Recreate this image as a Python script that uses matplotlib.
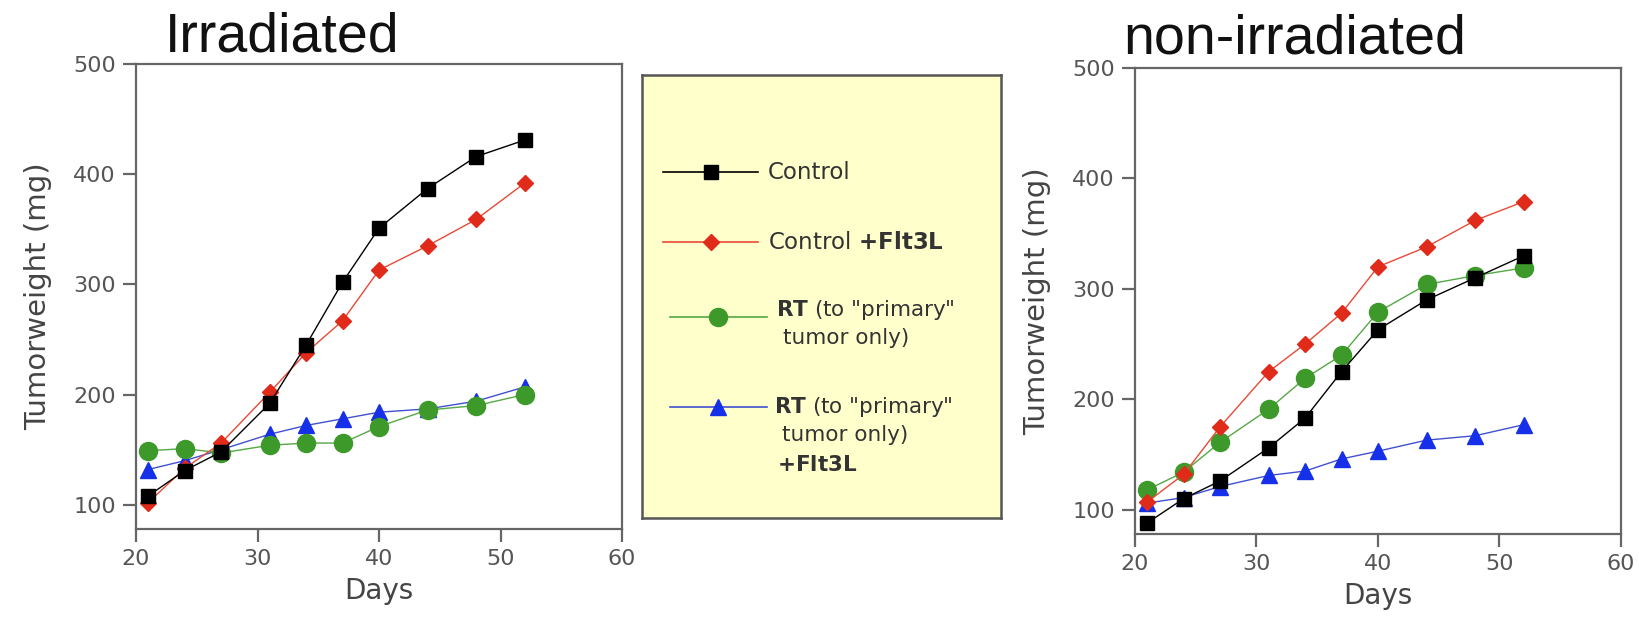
import matplotlib.pyplot as plt

days = [21, 24, 27, 31, 34, 37, 40, 44, 48, 52]

# Irradiated tumours (mg)
irr_control = [108, 131, 148, 192, 245, 302, 351, 387, 416, 431]
irr_control_flt3l = [102, 133, 156, 202, 238, 267, 313, 335, 359, 392]
irr_rt = [149, 151, 147, 154, 156, 156, 171, 186, 190, 200]
irr_rt_flt3l = [132, 140, 150, 164, 172, 178, 184, 187, 194, 207]

# Non-irradiated tumours (mg)
non_control = [88, 110, 126, 156, 183, 225, 263, 290, 310, 330]
non_control_flt3l = [107, 132, 175, 225, 250, 278, 320, 338, 362, 379]
non_rt = [118, 134, 161, 191, 219, 240, 279, 304, 312, 319]
non_rt_flt3l = [106, 111, 121, 131, 135, 146, 153, 163, 167, 177]

x_ticks = [20, 30, 40, 50, 60]
y_ticks = [100, 200, 300, 400, 500]

# line colour, marker, marker colour, marker size
styles = {
    'control': ('black', 's', 'black', 10),
    'control_flt3l': ('#e84a35', 'D', '#e02a1a', 8),
    'rt': ('#55a845', 'o', '#3d9a2a', 13),
    'rt_flt3l': ('#4050d0', '^', '#1530e8', 11),
}
draw_order = ['rt_flt3l', 'rt', 'control_flt3l', 'control']


def draw_panel(ax, data):
    for key in draw_order:
        lc, mk, mc, ms = styles[key]
        ax.plot(days, data[key], color=lc, lw=1.0, marker=mk, ms=ms,
                mfc=mc, mec=mc, zorder=3)
    ax.set_xlim(20, 60)
    ax.set_ylim(78, 500)
    ax.set_xticks(x_ticks)
    ax.set_yticks(y_ticks)
    for s in ax.spines.values():
        s.set_color('#666666')
        s.set_linewidth(1.6)
    ax.tick_params(direction='out', length=9.5, width=1.6, color='#666666',
                   labelsize=16, labelcolor='#555555', pad=5)
    ax.set_xlabel('Days', fontsize=20, color='#444444', labelpad=6)
    ax.set_ylabel('Tumorweight (mg)', fontsize=21, color='#444444', labelpad=15)


fig = plt.figure(figsize=(16.39, 6.17), dpi=100)

ax1 = fig.add_axes([0.0830, 0.1426, 0.2965, 0.7537])
draw_panel(ax1, {'control': irr_control, 'control_flt3l': irr_control_flt3l,
                 'rt': irr_rt, 'rt_flt3l': irr_rt_flt3l})

ax2 = fig.add_axes([0.6925, 0.1345, 0.2965, 0.7553])
draw_panel(ax2, {'control': non_control, 'control_flt3l': non_control_flt3l,
                 'rt': non_rt, 'rt_flt3l': non_rt_flt3l})

fig.text(165 / 1639, 1 - 52 / 617, 'Irradiated', fontsize=40,
         family='Liberation Sans', color='#111111', va='baseline')
fig.text(1123 / 1639, 1 - 53 / 617, 'non-irradiated', fontsize=40,
         family='Liberation Sans', color='#111111', va='baseline')

# legend box
lax = fig.add_axes([0.3917, 0.1604, 0.2190, 0.7180])
lax.set_facecolor('#ffffcc')
lax.set_xlim(0, 1)
lax.set_ylim(0, 1)
lax.set_xticks([])
lax.set_yticks([])
for s in lax.spines.values():
    s.set_color('#555555')
    s.set_linewidth(1.8)

entries = [
    ('control', 0.781, 0.058, 0.323, 0.192),
    ('control_flt3l', 0.623, 0.058, 0.323, 0.192),
    ('rt', 0.454, 0.078, 0.348, 0.212),
    ('rt_flt3l', 0.251, 0.078, 0.348, 0.212),
]
for key, y, x0, x1, xm in entries:
    lc, mk, mc, ms = styles[key]
    lax.plot([x0, x1], [y, y], color=lc, lw=1.2)
    lax.plot([xm], [y], marker=mk, ms=ms, mfc=mc, mec=mc, ls='none')

tkw = dict(fontsize=15.5, color='#333333', va='center', ha='left')
lax.text(0.351, 0.781, 'Control', fontsize=16.5, color='#333333',
         va='center', ha='left')
lax.text(0.351, 0.623, r'Control $\mathbf{+Flt3L}$', fontsize=16.5,
         color='#333333', va='center', ha='left')
lax.text(0.373, 0.470, r'$\mathbf{RT}$ (to "primary"', **tkw)
lax.text(0.393, 0.406, 'tumor only)', **tkw)
lax.text(0.368, 0.251, r'$\mathbf{RT}$ (to "primary"', **tkw)
lax.text(0.390, 0.187, 'tumor only)', **tkw)
lax.text(0.376, 0.120, r'$\mathbf{+Flt3L}$', **tkw)

fig.savefig('out.png', dpi=100, facecolor='white')
